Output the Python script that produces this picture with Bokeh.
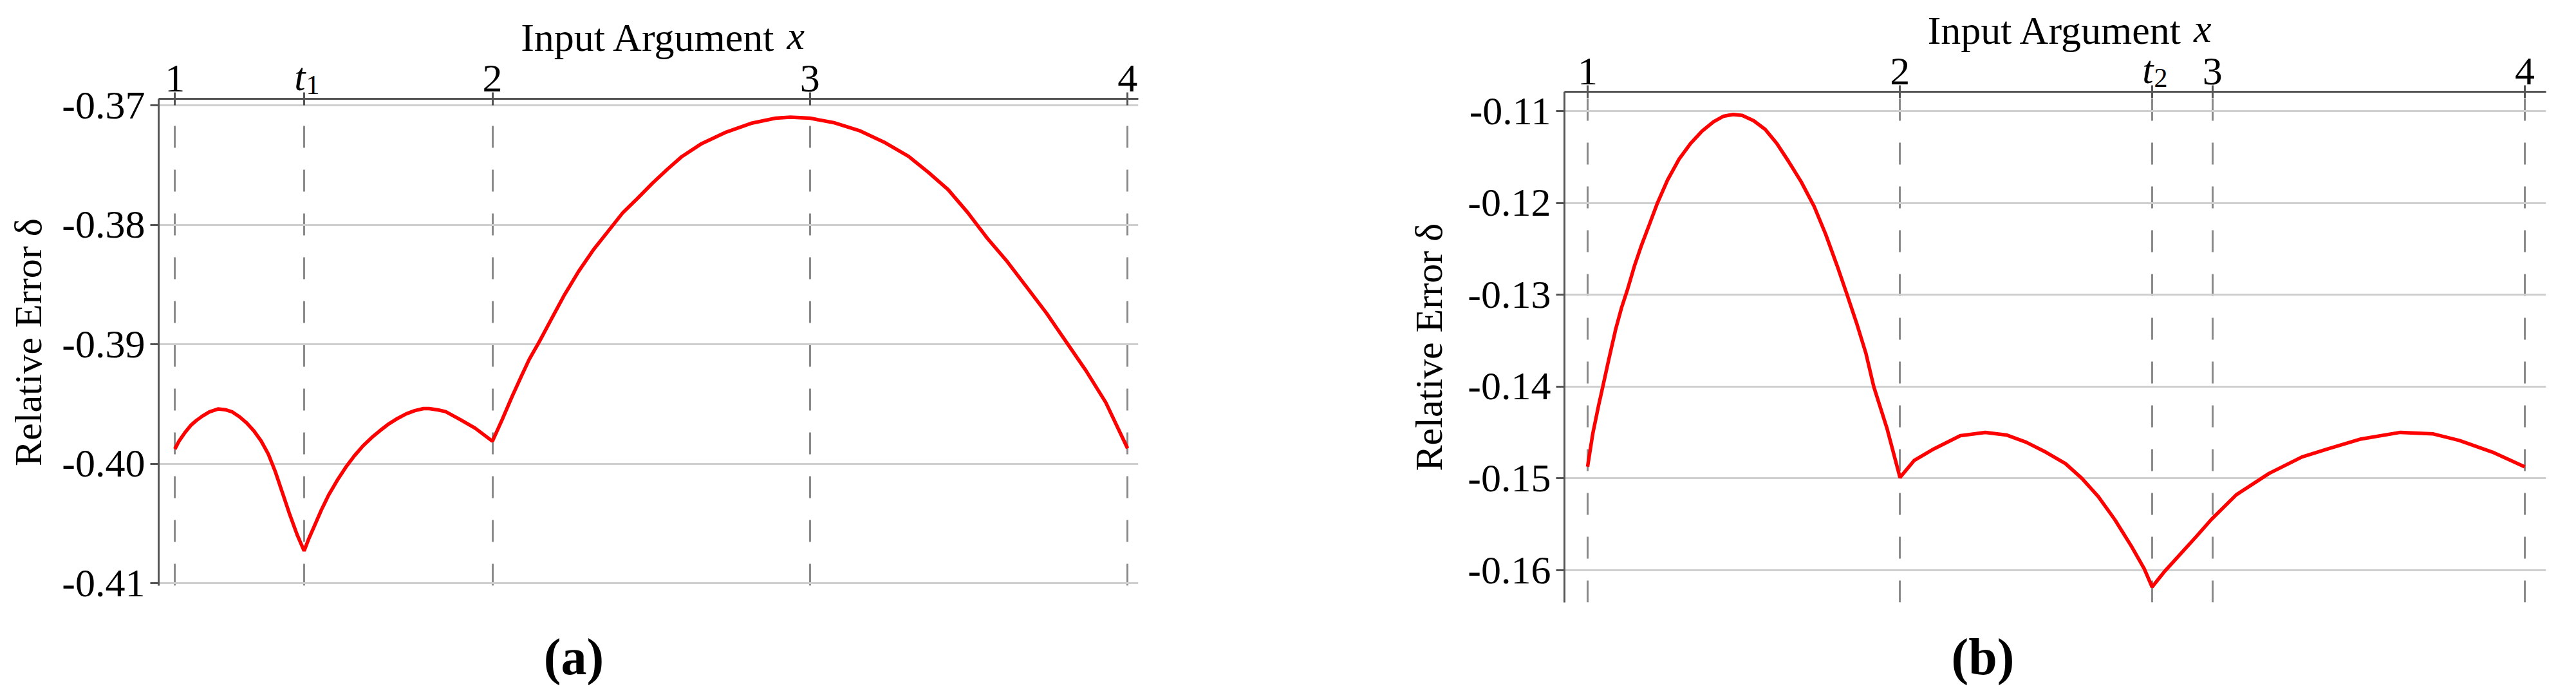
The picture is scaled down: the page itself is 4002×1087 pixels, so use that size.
from bokeh.plotting import figure
from bokeh.models import (FixedTicker, PrintfTickFormatter, Label, Range1d, LinearAxis)
from bokeh.layouts import row, column
from bokeh.embed import file_html
from bokeh.resources import INLINE

# ---------------- data: panel (a) ----------------
a_x = [1.0000, 1.0136, 1.0317, 1.0499, 1.0679, 1.0860, 1.1087, 1.1358, 1.1584, 1.1810,
       1.2037, 1.2263, 1.2489, 1.2715, 1.2942, 1.3168, 1.3394, 1.3620, 1.3847, 1.4070,
       1.4208, 1.4389, 1.4616, 1.4843, 1.5114, 1.5384, 1.5656, 1.5927, 1.6199, 1.6471,
       1.6742, 1.7014, 1.7286, 1.7557, 1.7829, 1.8010, 1.8281, 1.8524, 1.8989, 1.9455,
       2.0000, 2.0307, 2.0618, 2.0928, 2.1161, 2.1471, 2.1859, 2.2247, 2.2712, 2.3178,
       2.3643, 2.4109, 2.4575, 2.5040, 2.5506, 2.5970, 2.6592, 2.7366, 2.8143, 2.8917,
       2.9384, 3.0004, 3.0780, 3.1555, 3.2331, 3.3107, 3.3728, 3.4348, 3.4968, 3.5588,
       3.6209, 3.6829, 3.7449, 3.8072, 3.8692, 3.9313, 4.0000]
a_delta = [-0.39877, -0.39808, -0.39739, -0.39679, -0.39637, -0.39602, -0.39566, -0.39541,
           -0.39547, -0.39566, -0.39607, -0.39659, -0.39725, -0.39808, -0.39918, -0.40069,
           -0.40248, -0.40426, -0.40591, -0.40729, -0.40633, -0.40523, -0.40385, -0.40261,
           -0.40138, -0.40028, -0.39932, -0.39849, -0.39780, -0.39720, -0.39665, -0.39620,
           -0.39582, -0.39555, -0.39538, -0.39538, -0.39549, -0.39563, -0.39630, -0.39702,
           -0.39811, -0.39630, -0.39438, -0.39257, -0.39125, -0.38981, -0.38788, -0.38596,
           -0.38391, -0.38210, -0.38054, -0.37898, -0.37777, -0.37652, -0.37536, -0.37428,
           -0.37320, -0.37224, -0.37151, -0.37108, -0.37099, -0.37108, -0.37147, -0.37212,
           -0.37308, -0.37428, -0.37561, -0.37705, -0.37898, -0.38114, -0.38307, -0.38523,
           -0.38740, -0.38981, -0.39221, -0.39486, -0.39871]
a_t = 1.407
a_xticks = [1, a_t, 2, 3, 4]
a_yticks = [-0.41, -0.40, -0.39, -0.38, -0.37]

# ---------------- data: panel (b) ----------------
b_x = [1.0000, 1.0167, 1.0352, 1.0490, 1.0674, 1.0904, 1.1088, 1.1271, 1.1502, 1.1731,
       1.2007, 1.2238, 1.2559, 1.2928, 1.3295, 1.3663, 1.4031, 1.4354, 1.4657, 1.4952,
       1.5318, 1.5687, 1.6056, 1.6423, 1.6838, 1.7252, 1.7621, 1.7988, 1.8308, 1.8632,
       1.8908, 1.9160, 1.9580, 2.0000, 2.0459, 2.1090, 2.1933, 2.2731, 2.3404, 2.4035,
       2.4665, 2.5296, 2.5822, 2.6347, 2.6874, 2.7400, 2.7820, 2.8070, 2.8450, 2.8975,
       2.9501, 2.9964, 3.0763, 3.1815, 3.2866, 3.3707, 3.4758, 3.6019, 3.7072, 3.7913,
       3.8963, 4.0000]
b_delta = [-0.14872, -0.14511, -0.14206, -0.13997, -0.13711, -0.13369, -0.13140, -0.12950,
           -0.12684, -0.12456, -0.12208, -0.11999, -0.11751, -0.11523, -0.11352, -0.11218,
           -0.11116, -0.11055, -0.11036, -0.11047, -0.11105, -0.11199, -0.11352, -0.11542,
           -0.11770, -0.12037, -0.12341, -0.12684, -0.13000, -0.13331, -0.13636, -0.14000,
           -0.14450, -0.14989, -0.14802, -0.14677, -0.14534, -0.14498, -0.14526, -0.14605,
           -0.14713, -0.14838, -0.14999, -0.15197, -0.15447, -0.15734, -0.15985, -0.16182,
           -0.16020, -0.15823, -0.15626, -0.15447, -0.15178, -0.14945, -0.14766, -0.14677,
           -0.14570, -0.14498, -0.14515, -0.14587, -0.14713, -0.14874]
b_t = 2.807
b_xticks = [1, 2, b_t, 3, 4]
b_yticks = [-0.16, -0.15, -0.14, -0.13, -0.12, -0.11]

x_title = "Input Argument"
x_title_var = "x"
y_title = "Relative Error δ"

FONT = "Liberation Serif"
AXIS_COL = "#555555"


def make_panel(xs, ys, xticks, tval, tsub, yticks, xr, yr, width, height,
               bl, br, bt, bb, spare_side, ylab_standoff, letter, letter_px,
               letter_standoff):
    p = figure(width=width, height=height, output_backend="svg", toolbar_location=None,
               x_range=Range1d(*xr), y_range=Range1d(*yr), x_axis_location="above",
               min_border_left=bl, min_border_right=br, min_border_top=bt,
               min_border_bottom=bb, background_fill_color="white",
               border_fill_color="white", outline_line_color=None)
    xt = FixedTicker(ticks=xticks, minor_ticks=[])
    yt = FixedTicker(ticks=yticks, minor_ticks=[])
    p.xaxis.ticker = xt
    p.yaxis.ticker = yt
    p.xgrid.ticker = xt
    p.ygrid.ticker = yt
    p.xaxis.formatter = PrintfTickFormatter(format="%d")
    p.yaxis.formatter = PrintfTickFormatter(format="%.2f")
    p.xaxis.major_label_overrides = {tval: " "}
    for ax in (p.xaxis, p.yaxis):
        ax.axis_line_color = AXIS_COL
        ax.axis_line_width = 3
        ax.major_tick_line_color = AXIS_COL
        ax.major_tick_line_width = 3
        ax.minor_tick_line_color = None
        ax.major_label_text_font = FONT
        ax.major_label_text_font_size = "62px"
        ax.major_label_text_color = "black"
        ax.axis_label_text_font = FONT
        ax.axis_label_text_font_style = "normal"
        ax.axis_label_text_color = "black"
    p.xaxis.major_tick_out = 10
    p.xaxis.major_tick_in = 10
    p.xaxis.major_label_standoff = -11
    p.yaxis.major_tick_out = 13
    p.yaxis.major_tick_in = 0
    p.yaxis.major_label_standoff = 8

    p.xaxis.axis_label = x_title
    p.xaxis.axis_label_text_font_size = "62px"
    p.xaxis.axis_label_standoff = -8
    p.yaxis.axis_label = y_title
    p.yaxis.axis_label_text_font_size = "60px"
    p.yaxis.axis_label_standoff = ylab_standoff

    p.xgrid.grid_line_color = "#8a8a8a"
    p.xgrid.grid_line_width = 3
    p.xgrid.grid_line_dash = "34 34"
    p.ygrid.grid_line_color = "#cfcfcf"
    p.ygrid.grid_line_width = 3

    p.line(xs, ys, line_color="#ff0000", line_width=5.5)

    xmid = (xr[0] + xr[1]) / 2
    # italic variable after the axis title, italic t_i tick label
    p.add_layout(Label(x=xmid, y=yr[1], x_offset=215, y_offset=99, text=x_title_var,
                       text_align="left", text_baseline="alphabetic", text_font=FONT,
                       text_font_style="italic", text_font_size="62px",
                       text_color="black"), spare_side)
    p.add_layout(Label(x=tval, y=yr[1], x_offset=2, y_offset=35, text="t",
                       text_align="right", text_baseline="alphabetic", text_font=FONT,
                       text_font_style="italic", text_font_size="62px",
                       text_color="black"), spare_side)
    p.add_layout(Label(x=tval, y=yr[1], x_offset=3, y_offset=22, text=tsub,
                       text_align="left", text_baseline="alphabetic", text_font=FONT,
                       text_font_size="42px", text_color="black"), spare_side)

    # sub-figure letter as a bare axis label below the frame
    frame_w = width - bl - br
    letter_x = xr[0] + letter_px * (xr[1] - xr[0]) / frame_w
    lax = LinearAxis(ticker=FixedTicker(ticks=[letter_x], minor_ticks=[]),
                     major_label_overrides={letter_x: letter},
                     axis_line_color=None, major_tick_line_color=None,
                     minor_tick_line_color=None, major_tick_out=0, major_tick_in=0,
                     major_label_standoff=letter_standoff,
                     major_label_text_font=FONT, major_label_text_font_size="80px",
                     major_label_text_font_style="bold", major_label_text_color="black")
    p.add_layout(lax, "below")
    return p


pa = make_panel(a_x, a_delta, a_xticks, a_t, "1", a_yticks,
                (0.949, 4.034), (-0.4102, -0.36946),
                width=1968, height=1071, bl=246, br=200, bt=153, bb=162,
                spare_side="right", ylab_standoff=16, letter="(a)",
                letter_px=645, letter_standoff=66)
pb = make_panel(b_x, b_delta, b_xticks, b_t, "2", b_yticks,
                (0.926, 4.068), (-0.1635, -0.10789),
                width=2018, height=1071, bl=462, br=31, bt=142, bb=136,
                spare_side="left", ylab_standoff=24, letter="(b)",
                letter_px=650, letter_standoff=40)

layout = row(column(pa), column(pb))
open("out.html", "w").write(file_html(layout, INLINE))
